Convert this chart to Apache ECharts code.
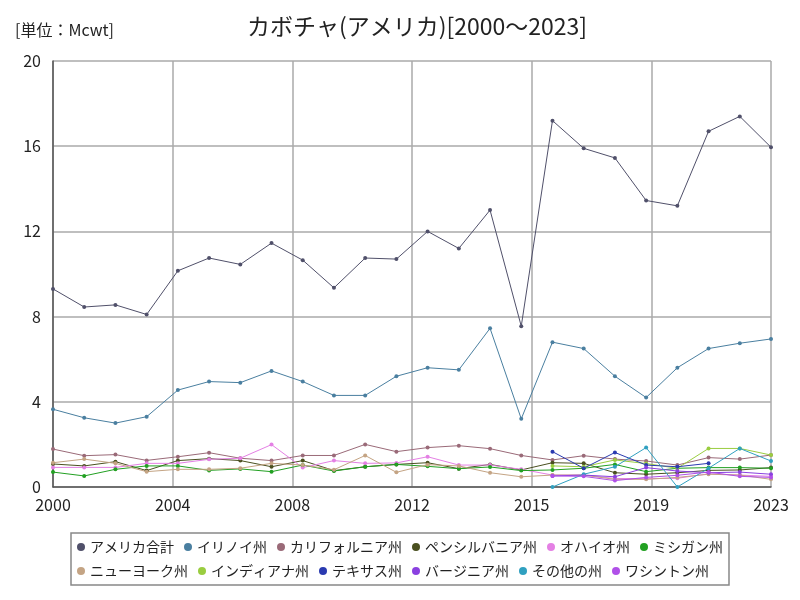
<!DOCTYPE html>
<html>
<head>
<meta charset="utf-8">
<script src="https://cdn.jsdelivr.net/npm/echarts@6/dist/echarts.min.js"></script>
<style>
  html, body { margin: 0; padding: 0; background: #fff; }
  #main { width: 800px; height: 600px; }
</style>
</head>
<body>
<div id="main"></div>
<script>
// 年（2000～2023）
var years = [2000, 2001, 2002, 2003, 2004, 2005, 2006, 2007, 2008, 2009, 2010, 2011,
  2012, 2013, 2014, 2015, 2016, 2017, 2018, 2019, 2020, 2021, 2022, 2023];

// 各系列の値（Mcwt）
var usTotal = [9.3, 8.45, 8.55, 8.1, 10.15, 10.75, 10.45, 11.45, 10.65, 9.35, 10.75, 10.7,
  12.0, 11.2, 13.0, 7.55, 17.2, 15.9, 15.45, 13.45, 13.2, 16.7, 17.4, 15.95];
var illinois = [3.65, 3.25, 3.0, 3.3, 4.55, 4.95, 4.9, 5.45, 4.95, 4.3, 4.3, 5.2,
  5.6, 5.5, 7.45, 3.2, 6.8, 6.5, 5.2, 4.2, 5.6, 6.5, 6.75, 6.95];
var california = [1.78, 1.47, 1.52, 1.25, 1.42, 1.61, 1.35, 1.24, 1.48, 1.48, 2.0, 1.66,
  1.85, 1.94, 1.8, 1.48, 1.27, 1.47, 1.31, 1.22, 1.03, 1.38, 1.31, 1.5];
var pennsylvania = [1.08, 0.99, 1.19, 0.77, 1.24, 1.33, 1.24, 0.95, 1.24, 0.77, 0.95, 1.06,
  1.14, 0.86, 1.06, 0.8, 1.14, 1.11, 0.67, 0.6, 0.67, 0.78, 0.8, 0.91];
var ohio = [0.92, 0.92, 0.92, 1.11, 1.11, 1.3, 1.35, 1.99, 0.91, 1.24, 1.11, 1.13,
  1.42, 1.03, 1.03, 0.83, 0.56, 0.56, 0.4, 0.39, 0.41, 0.62, 0.56, 0.5];
var michigan = [0.7, 0.52, 0.83, 0.99, 0.99, 0.78, 0.85, 0.72, 1.03, 0.75, 0.95, 1.06,
  0.97, 0.86, 0.94, 0.77, 0.8, 0.88, 1.06, 0.72, 0.88, 0.91, 0.91, 0.88];
var newYork = [1.14, 1.31, 1.11, 0.72, 0.83, 0.83, 0.88, 1.11, 1.03, 0.81, 1.48, 0.69,
  1.05, 0.99, 0.67, 0.48, 0.56, 0.56, 0.36, 0.36, 0.45, 0.6, 0.56, 0.36];
var indiana = [null, null, null, null, null, null, null, null, null, null, null, null,
  null, null, null, null, 0.99, 0.95, 1.27, 1.1, 0.88, 1.81, 1.81, 1.5];
var texas = [null, null, null, null, null, null, null, null, null, null, null, null,
  null, null, null, null, 1.66, 0.88, 1.62, 1.03, 0.95, 1.11, null, null];
var virginia = [null, null, null, null, null, null, null, null, null, null, null, null,
  null, null, null, null, 0.52, 0.56, 0.48, 0.91, 0.75, 0.67, 0.7, 0.6];
var others = [null, null, null, null, null, null, null, null, null, null, null, null,
  null, null, null, null, 0.0, 0.6, 0.95, 1.85, 0.0, 0.88, 1.81, 1.22];
var washington = [null, null, null, null, null, null, null, null, null, null, null, null,
  null, null, null, null, 0.52, 0.5, 0.3, 0.45, 0.55, 0.7, 0.5, 0.45];

var seriesNames = ["アメリカ合計", "イリノイ州", "カリフォルニア州", "ペンシルバニア州", "オハイオ州", "ミシガン州",
  "ニューヨーク州", "インディアナ州", "テキサス州", "バージニア州", "その他の州", "ワシントン州"];
var seriesData = [usTotal, illinois, california, pennsylvania, ohio, michigan,
  newYork, indiana, texas, virginia, others, washington];
var colors = ["#50506a", "#4a7fa0", "#9a6a78", "#4a5020", "#e480e4", "#22a022",
  "#c4a484", "#9acd40", "#2a3ab0", "#8a40e0", "#30a0c0", "#b050e8"];

var yTicks = [0, 4, 8, 12, 16, 20];
var startYear = years[0];
var endYear = years[years.length - 1];

var font = "'Noto Sans CJK JP', sans-serif";
var myChart = echarts.init(document.getElementById("main"));

var option = {
  backgroundColor: "#fff",
  color: colors,
  animation: false,
  title: [
    {
      text: "カボチャ(アメリカ)[2000～2023]",
      left: 412,
      top: 10,
      textAlign: "center",
      textStyle: { fontFamily: font, fontSize: 23, fontWeight: "normal", color: "#222" }
    },
    {
      text: "[単位：Mcwt]",
      left: 10,
      top: 17,
      textStyle: { fontFamily: font, fontSize: 16, fontWeight: "normal", color: "#222" }
    }
  ],
  grid: { left: 53, right: 29, top: 61, bottom: 113 },
  legend: {
    data: seriesNames,
    bottom: 15,
    left: "center",
    width: 680,
    icon: "circle",
    itemWidth: 8,
    itemHeight: 8,
    itemGap: 10,
    padding: [7, 6],
    borderColor: "#888",
    borderWidth: 1.5,
    textStyle: { fontFamily: font, fontSize: 14, color: "#222" }
  },
  xAxis: {
    type: "value",
    // 年を2000年からの経過年数で表す（最小値0は目盛間隔の倍数）
    min: 0,
    max: endYear - startYear,
    interval: (endYear - startYear) / 6,
    axisLine: { lineStyle: { color: "#555", width: 1.5 } },
    axisTick: { show: false },
    axisLabel: {
      fontFamily: font,
      fontSize: 16,
      color: "#222",
      margin: 10,
      formatter: function (v) { return Math.round(startYear + v); }
    },
    splitLine: { show: true, lineStyle: { color: "#aaa", width: 1.5 } }
  },
  yAxis: {
    type: "value",
    min: yTicks[0],
    max: yTicks[yTicks.length - 1],
    interval: yTicks[1] - yTicks[0],
    axisLine: { show: true, lineStyle: { color: "#555", width: 1.5 } },
    axisTick: { show: false },
    axisLabel: { fontFamily: font, fontSize: 16, color: "#222", margin: 12 },
    splitLine: { show: true, lineStyle: { color: "#aaa", width: 1.5 } }
  },
  series: seriesNames.map(function (name, i) {
    return {
      name: name,
      type: "line",
      symbol: "circle",
      symbolSize: 4,
      lineStyle: { width: 1 },
      data: years.map(function (y, k) {
        return [y - startYear, seriesData[i][k]];
      })
    };
  })
};

myChart.setOption(option);
</script>
</body>
</html>
